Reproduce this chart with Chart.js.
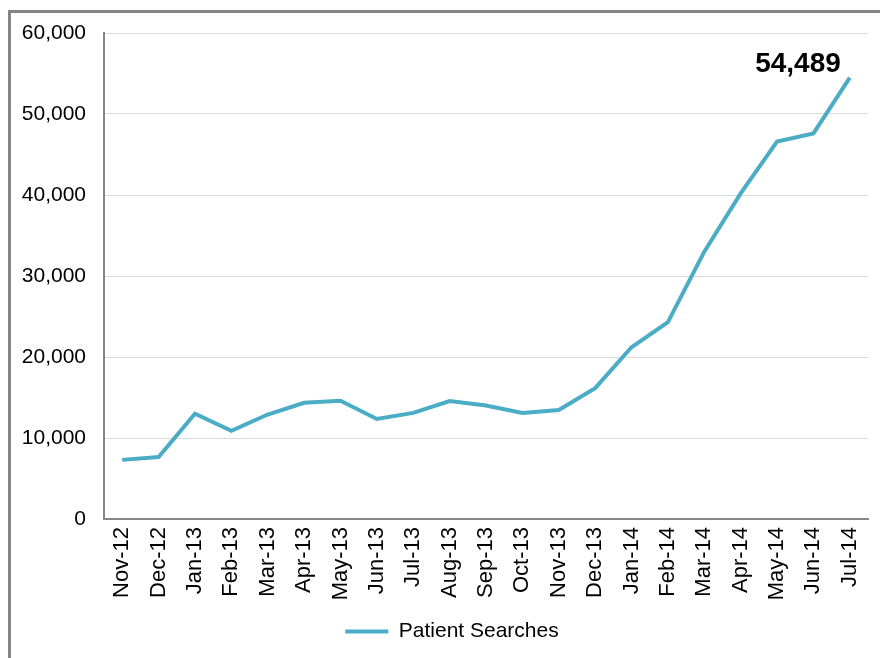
<!DOCTYPE html>
<html>
<head>
<meta charset="utf-8">
<title>Patient Searches</title>
<script src="https://cdn.jsdelivr.net/npm/chart.js"></script>
<style>
  html, body { margin: 0; padding: 0; background: #fff; overflow: hidden; }
  #wrap { position: relative; width: 880px; height: 658px; }
  #frame {
    position: absolute; left: 8px; top: 10px; width: 900px; height: 700px;
    border-left: 3px solid #868686; border-top: 3px solid #868686;
    pointer-events: none;
  }
  canvas { position: absolute; left: 0; top: 0; }
</style>
</head>
<body>
<div id="wrap">
  <div id="frame"></div>
  <canvas id="searches-chart" width="880" height="658"></canvas>
</div>
<script>
// Monthly patient searches
const months = ['Nov-12', 'Dec-12', 'Jan-13', 'Feb-13', 'Mar-13', 'Apr-13', 'May-13',
  'Jun-13', 'Jul-13', 'Aug-13', 'Sep-13', 'Oct-13', 'Nov-13', 'Dec-13',
  'Jan-14', 'Feb-14', 'Mar-14', 'Apr-14', 'May-14', 'Jun-14', 'Jul-14'];
const searches = [7300, 7650, 13000, 10900, 12900, 14350, 14600,
  12350, 13100, 14570, 14000, 13100, 13450, 16150,
  21200, 24300, 33000, 40200, 46600, 47600, 54489];
const yTicks = [0, 10000, 20000, 30000, 40000, 50000, 60000];

const LINE_COLOR = '#4BACC6';
const FONT = "'Liberation Sans', Arial, sans-serif";

Chart.defaults.font.family = FONT;
Chart.defaults.color = '#000';

// label the last point with its value
const lastValueLabel = {
  id: 'lastValueLabel',
  afterDatasetsDraw(chart) {
    const meta = chart.getDatasetMeta(0);
    const pt = meta.data[meta.data.length - 1];
    const val = chart.data.datasets[0].data[meta.data.length - 1];
    const ctx = chart.ctx;
    ctx.save();
    ctx.font = "bold 28px " + FONT;
    ctx.fillStyle = '#000';
    ctx.textAlign = 'right';
    ctx.textBaseline = 'alphabetic';
    ctx.fillText(val.toLocaleString('en-US'), pt.x - 9, pt.y - 6);
    ctx.restore();
  }
};

// the original legend sits a bit right of the canvas centre
const legendShift = {
  id: 'legendShift',
  afterLayout(chart) {
    if (chart.legend) chart.legend.left += 12;
  }
};

new Chart(document.getElementById('searches-chart'), {
  type: 'line',
  data: {
    labels: months,
    datasets: [{
      label: 'Patient Searches',
      data: searches,
      borderColor: LINE_COLOR,
      backgroundColor: LINE_COLOR,
      borderWidth: 4,
      pointRadius: 0,
      tension: 0,
      fill: false
    }]
  },
  options: {
    responsive: false,
    animation: false,
    layout: { padding: { left: 12, right: 0, top: 33, bottom: 6 } },
    plugins: {
      legend: {
        position: 'bottom',
        labels: {
          usePointStyle: true,
          pointStyle: 'line',
          pointStyleWidth: 43,
          padding: 10,
          color: '#000',
          font: { size: 21 }
        }
      },
      tooltip: { enabled: false }
    },
    scales: {
      x: {
        offset: true,
        grid: { display: false, drawTicks: false },
        border: { color: '#868686', width: 2 },
        ticks: {
          minRotation: 90,
          maxRotation: 90,
          autoSkip: false,
          padding: 8,
          font: { size: 22 }
        },
        afterFit(scale) {
          scale.height = 92;
          scale.paddingRight = 12;
        }
      },
      y: {
        min: 0,
        max: 60000,
        afterBuildTicks(scale) { scale.ticks = yTicks.map(v => ({ value: v })); },
        grid: { color: '#D9D9D9', lineWidth: 1, drawTicks: false },
        border: { color: '#868686', width: 2 },
        ticks: {
          padding: 18,
          font: { size: 21 },
          callback: v => v.toLocaleString('en-US')
        },
        afterFit(scale) { scale.width = 92; }
      }
    }
  },
  plugins: [lastValueLabel, legendShift]
});
</script>
</body>
</html>
